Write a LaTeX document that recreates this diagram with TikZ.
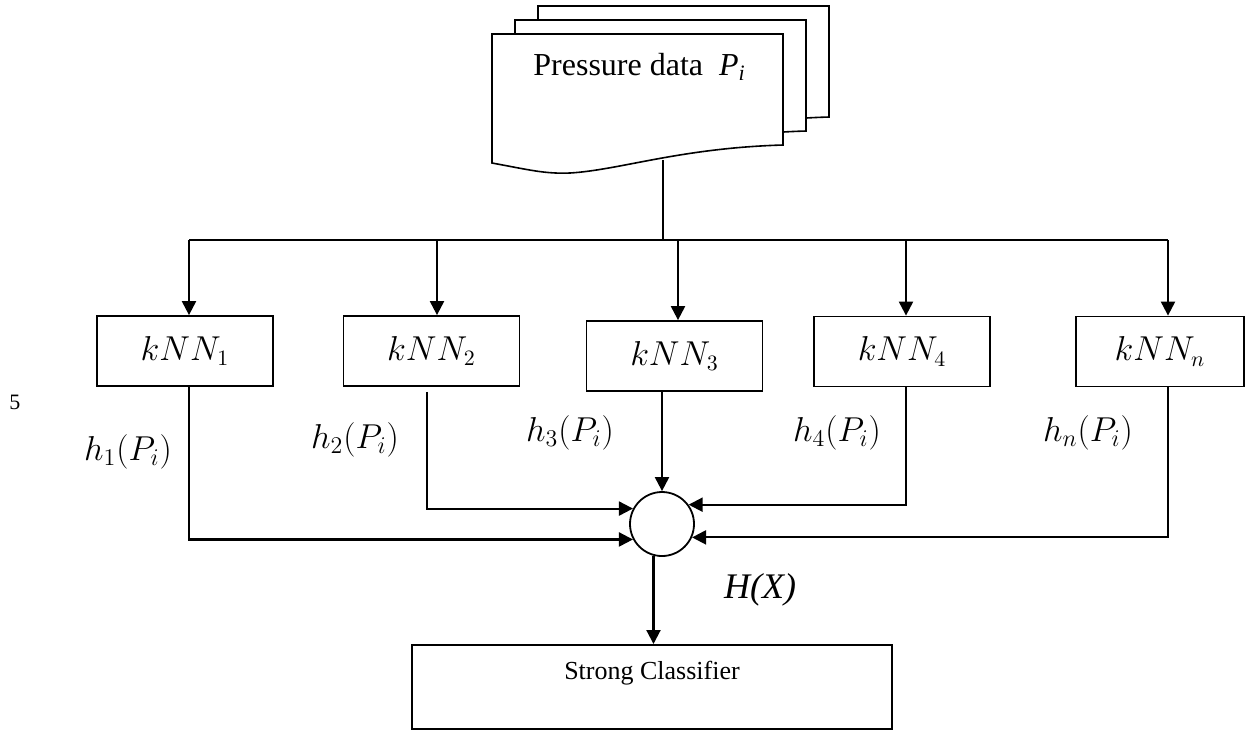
\documentclass[tikz,border=0pt]{standalone}
\usepackage{fontspec}
\setmainfont{Liberation Serif}
\usetikzlibrary{arrows.meta}
\begin{document}
\begin{tikzpicture}[x=0.5pt,y=-0.5pt,
  box/.style={draw,line width=0.9pt,minimum width=88pt,minimum height=35pt,inner sep=0pt,font=\fontsize{16}{19}\selectfont},
  arr/.style={line width=1.05pt,-{Triangle[length=7pt,width=7pt]}},
  conn/.style={line width=1.05pt},
  lab/.style={inner sep=0pt,font=\fontsize{17.5}{21}\selectfont},
  page/.style={draw,line width=0.8pt,fill=white},
  docpage/.pic={\draw[page] (0,0) -- (291,0) -- (291,111)
     .. controls (188,114) and (128,136) .. (78,139)
     .. controls (53,140) and (38,136) .. (0,129) -- cycle;}]
\useasboundingbox (0,0) rectangle (1246,730);

% stacked document
\pic at (538,6) {docpage};
\pic at (515,20) {docpage};
\pic at (492,34) {docpage};
\node[anchor=base west,inner sep=0pt,font=\fontsize{16}{19}\selectfont] (ptxt) at (533,75)
  {Pressure data\ \ \textit{P}\raisebox{-0.35ex}{\fontsize{11}{13}\selectfont\textit{i}}};

% bus coordinates
\coordinate (docout) at (663,160);
\coordinate (bj) at (663,240);
\coordinate (b1) at (189,240);
\coordinate (b2) at (437,240);
\coordinate (b3) at (678,240);
\coordinate (b4) at (906,240);
\coordinate (bn) at (1168,240);

% classifier boxes
\node[box] (k1) at (185,351) {$kNN_1$};
\node[box] (k2) at (431.5,351) {$kNN_2$};
\node[box] (k3) at (674.5,356) {$kNN_3$};
\node[box] (k4) at (902,351.5) {$kNN_4$};
\node[box,minimum width=84pt] (kn) at (1160,351.5) {$kNN_n$};

% combiner and strong classifier
\node[draw,circle,line width=0.9pt,minimum size=32pt,inner sep=0pt] (sum) at (662,524) {};
\node[draw,line width=0.8pt,minimum width=240pt,minimum height=42pt,anchor=north,inner sep=0pt] (sc) at (652,644) {};
\node[inner sep=0pt,font=\fontsize{13}{16}\selectfont] (sctxt) at (652,673) {Strong Classifier};

% connectors from data
\draw[conn] (docout) -- (bj);
\draw[conn] (b1) -- (bn);
\draw[arr] (b1) -- (b1 |- k1.north);
\draw[arr] (b2) -- (b2 |- k2.north);
\draw[arr] (b3) -- (b3 |- k3.north);
\draw[arr] (b4) -- (b4 |- k4.north);
\draw[arr] (bn) -- (bn |- kn.north);

% connectors into combiner
\draw[arr] (k1.south -| b1) |- (sum.208);
\draw[arr] ([shift={(-4.5,5)}]k2.south) |- (sum.152);
\draw[arr] (sum.north |- k3.south) -- (sum.north);
\draw[arr] (k4.south -| b4) |- (sum.36);
\draw[arr] (kn.south -| bn) |- (sum.336);
\draw[arr] (sum.255) -- (sum.255 |- sc.north);

% labels
\node[lab] (l1) at (128,452) {$h_1(P_i)$};
\node[lab] (l2) at (355,440) {$h_2(P_i)$};
\node[lab] (l3) at (570,433) {$h_3(P_i)$};
\node[lab] (l4) at (837,433) {$h_4(P_i)$};
\node[lab] (ln) at (1088,433) {$h_n(P_i)$};
\node[inner sep=0pt,font=\fontsize{18}{21}\selectfont\itshape] (hx) at (760,590) {H(X)};
\node[inner sep=0pt,font=\fontsize{11}{13}\selectfont] (five) at (15,402) {5};
\end{tikzpicture}
\end{document}
